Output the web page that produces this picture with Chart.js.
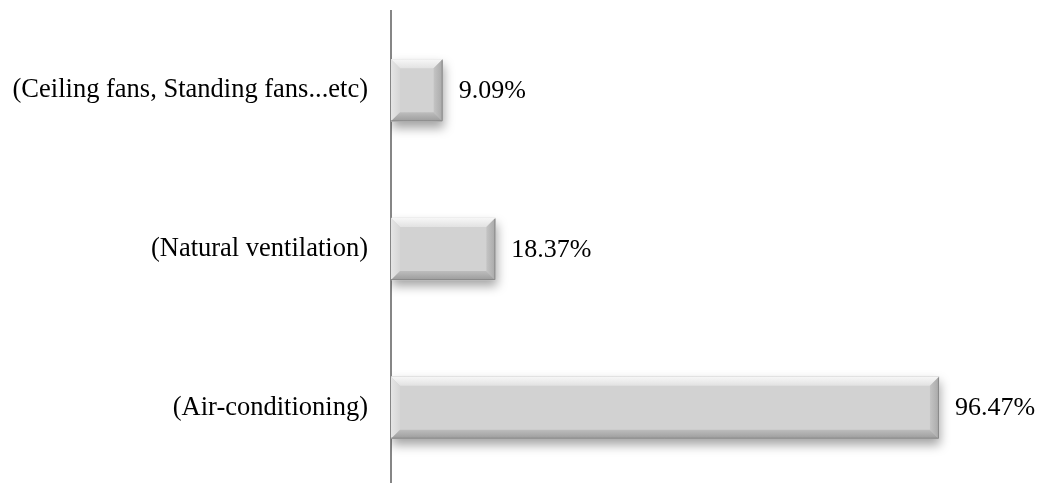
<!DOCTYPE html>
<html>
<head>
<meta charset="utf-8">
<script src="https://cdn.jsdelivr.net/npm/chart.js@4/dist/chart.umd.min.js"></script>
<style>
  html, body { margin: 0; padding: 0; background: #fff; overflow: hidden; }
  canvas { display: block; }
</style>
</head>
<body>
<canvas id="c" width="1038" height="487" style="width:1038px;height:487px"></canvas>
<script>
// Cooling methods and their share of respondents (%)
const categories = [
  '(Ceiling fans, Standing fans...etc)',
  '(Natural ventilation)',
  '(Air-conditioning)'
];
const shares = [9.09, 18.37, 96.47];
const axisMin = 0;
const axisMax = 100;

const FONT = '"Liberation Serif", "Times New Roman", serif';

// Bevelled bar faces plus the value text to the right of each bar
const bevelPlugin = {
  id: 'bevel',
  beforeDatasetsDraw(chart) {
    const ctx = chart.ctx;
    ctx.save();
    ctx.shadowColor = 'rgba(0,0,0,0.36)';
    ctx.shadowBlur = 10;
    ctx.shadowOffsetX = 1;
    ctx.shadowOffsetY = 6;
  },
  afterDatasetsDraw(chart) {
    const ctx = chart.ctx;
    ctx.restore();
    const meta = chart.getDatasetMeta(0);
    meta.data.forEach((bar, i) => {
      const p = bar.getProps(['x', 'y', 'base', 'height'], true);
      const x0 = Math.min(p.base, p.x), x1 = Math.max(p.base, p.x);
      const y0 = p.y - p.height / 2, y1 = p.y + p.height / 2;
      const d = Math.min(9, (x1 - x0) / 3);
      ctx.save();
      // top face
      let g = ctx.createLinearGradient(0, y0, 0, y0 + d);
      g.addColorStop(0, '#f7f7f7');
      g.addColorStop(1, '#e2e2e2');
      ctx.fillStyle = g;
      ctx.beginPath();
      ctx.moveTo(x0, y0); ctx.lineTo(x1, y0); ctx.lineTo(x1 - d, y0 + d); ctx.lineTo(x0 + d, y0 + d);
      ctx.closePath(); ctx.fill();
      // left face
      g = ctx.createLinearGradient(x0, 0, x0 + d, 0);
      g.addColorStop(0, '#e6e6e6');
      g.addColorStop(1, '#d6d6d6');
      ctx.fillStyle = g;
      ctx.beginPath();
      ctx.moveTo(x0, y0); ctx.lineTo(x0 + d, y0 + d); ctx.lineTo(x0 + d, y1 - d); ctx.lineTo(x0, y1);
      ctx.closePath(); ctx.fill();
      // right face
      g = ctx.createLinearGradient(x1 - d, 0, x1, 0);
      g.addColorStop(0, '#c4c4c4');
      g.addColorStop(1, '#a9a9a9');
      ctx.fillStyle = g;
      ctx.beginPath();
      ctx.moveTo(x1, y0); ctx.lineTo(x1, y1); ctx.lineTo(x1 - d, y1 - d); ctx.lineTo(x1 - d, y0 + d);
      ctx.closePath(); ctx.fill();
      // bottom face
      g = ctx.createLinearGradient(0, y1 - d, 0, y1);
      g.addColorStop(0, '#bdbdbd');
      g.addColorStop(1, '#9c9c9c');
      ctx.fillStyle = g;
      ctx.beginPath();
      ctx.moveTo(x0, y1); ctx.lineTo(x1, y1); ctx.lineTo(x1 - d, y1 - d); ctx.lineTo(x0 + d, y1 - d);
      ctx.closePath(); ctx.fill();
      // dark outer edge on right and bottom
      ctx.strokeStyle = '#8a8a8a';
      ctx.lineWidth = 1;
      ctx.beginPath();
      ctx.moveTo(x1 - 0.5, y0 + 1); ctx.lineTo(x1 - 0.5, y1 - 0.5); ctx.lineTo(x0, y1 - 0.5);
      ctx.stroke();
      // value text
      ctx.fillStyle = '#000';
      ctx.font = '26px ' + FONT;
      ctx.textAlign = 'left';
      ctx.textBaseline = 'middle';
      ctx.fillText(shares[i].toFixed(2) + '%', x1 + 16, p.y + 1);
      ctx.restore();
    });
  }
};

new Chart(document.getElementById('c'), {
  type: 'bar',
  data: {
    labels: categories,
    datasets: [{
      data: shares,
      backgroundColor: '#d2d2d2',
      borderWidth: 0,
      barThickness: 62
    }]
  },
  options: {
    indexAxis: 'y',
    responsive: false,
    animation: false,
    events: [],
    layout: { padding: { top: 11, right: 79, bottom: 0, left: 0 } },
    plugins: { legend: { display: false }, tooltip: { enabled: false } },
    scales: {
      x: {
        display: false,
        min: axisMin,
        max: axisMax
      },
      y: {
        afterFit(scale) {
          scale.width = 391;
          scale.paddingTop = 0;
          scale.paddingBottom = 0;
        },
        grid: { display: false },
        border: { display: true, color: '#868686', width: 2 },
        ticks: {
          color: '#000',
          padding: 15,
          font: { family: FONT, size: 26.5 }
        }
      }
    }
  },
  plugins: [bevelPlugin]
});
</script>
</body>
</html>
